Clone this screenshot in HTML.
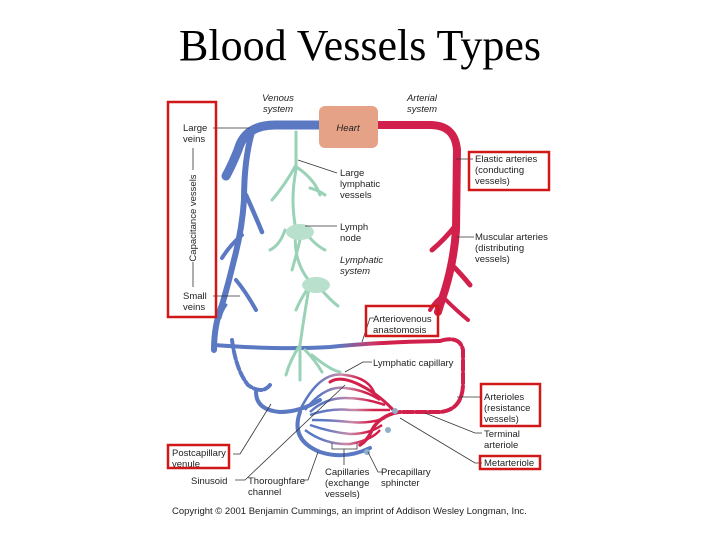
<!DOCTYPE html>
<html><head><meta charset="utf-8"><style>
html,body{margin:0;padding:0;background:#fff;width:720px;height:540px;overflow:hidden}
svg{display:block}
text{font-family:"Liberation Sans",sans-serif;font-size:9.5px;fill:#222}
.it{font-style:italic}
</style></head><body>
<svg width="720" height="540" viewBox="0 0 720 540">
<defs>
<linearGradient id="av" x1="0" x2="1"><stop offset="0.55" stop-color="#5b78c2"/><stop offset="0.7" stop-color="#c83a6a"/><stop offset="0.75" stop-color="#d1204c"/></linearGradient>
<linearGradient id="cap" x1="0" x2="1"><stop offset="0.2" stop-color="#5b78c2"/><stop offset="0.55" stop-color="#c98aa8"/><stop offset="0.8" stop-color="#d1204c"/></linearGradient>
</defs>
<text x="360" y="60" text-anchor="middle" style="font-family:'Liberation Serif',serif;font-size:44px;fill:#000">Blood Vessels Types</text>

<g fill="none" stroke="#5b78c2" stroke-linecap="round">
<path d="M320 125 H275 Q245 125 238 150 Q232 165 226 176" stroke-width="9"/>
<path d="M252 132 Q244 160 244 200 Q242 230 234 260 Q228 285 222 305 Q214 325 214 350" stroke-width="6"/>
<path d="M246 195 Q255 215 262 232" stroke-width="4.5"/>
<path d="M242 235 Q230 245 222 258" stroke-width="4"/>
<path d="M236 280 Q246 292 256 310" stroke-width="4"/>
<path d="M226 305 Q222 310 220 318" stroke-width="3"/>
<path d="M232 340 Q236 370 248 385 Q262 395 270 385" stroke-width="4" stroke-dasharray="8 3"/>
<path d="M256 392 Q256 410 280 412 Q300 412 320 400" stroke-width="4"/>
<path d="M300 412 Q290 440 320 452 Q345 460 370 448" stroke-width="4"/>
</g>
<path d="M214 345 Q280 350 330 347 Q380 342 440 341" fill="none" stroke="url(#av)" stroke-width="4"/>
<g fill="none" stroke="#d1204c" stroke-linecap="round">
<path d="M378 125 H430 Q455 125 457 150 L456 230 Q454 260 445 290 Q440 305 438 312" stroke-width="8"/>
<path d="M456 225 Q444 240 432 250" stroke-width="5"/>
<path d="M452 265 Q462 275 470 285" stroke-width="5"/>
<path d="M444 295 Q436 300 430 310" stroke-width="4"/>
<path d="M446 300 Q456 310 468 320" stroke-width="4"/>
<path d="M440 341 Q460 335 463 350 L463 385 Q462 410 440 412 L400 412" stroke-width="4" stroke-dasharray="10 3"/>
<path d="M400 412 Q380 415 372 430 Q368 440 360 445" stroke-width="3.5"/>
<path d="M395 412 Q380 395 360 385 Q340 375 330 382" stroke-width="3"/>
</g>
<g fill="none" stroke="url(#cap)" stroke-width="2.5">
<path d="M300 410 Q320 370 345 375 Q370 378 375 395"/>
<path d="M305 410 Q325 385 345 388 Q365 390 380 400"/>
<path d="M310 412 Q325 398 345 398 Q365 398 385 405"/>
<path d="M310 415 Q330 408 350 410 Q370 410 390 410"/>
<path d="M312 420 Q330 420 350 422 Q370 424 385 418"/>
<path d="M310 425 Q330 432 350 434 Q370 434 382 425"/>
<path d="M305 430 Q325 445 350 444 Q372 440 380 430"/>
</g>
<circle cx="395" cy="411" r="3" fill="#8fb0c8"/><circle cx="388" cy="430" r="3" fill="#8fb0c8"/><circle cx="367" cy="452" r="3" fill="#8fb0c8"/>
<g fill="none" stroke="#9ad2b8" stroke-width="3" stroke-linecap="round">
<path d="M296 132 L296 170 Q290 200 296 230 Q292 260 310 282 Q305 310 300 345 L300 380"/>
<path d="M296 165 Q285 185 272 200"/><path d="M298 168 Q315 180 320 195"/>
<path d="M310 188 Q318 190 325 195"/>
<path d="M285 230 Q280 245 270 250"/><path d="M305 232 Q315 245 325 250"/>
<path d="M300 240 Q295 260 292 270"/>
<path d="M310 285 Q300 300 296 310"/><path d="M320 288 Q330 300 338 306"/>
<path d="M300 345 Q290 360 286 375"/><path d="M305 350 Q315 360 322 372"/><path d="M312 355 Q330 370 340 372"/>
</g>
<ellipse cx="300" cy="232" rx="14" ry="8" fill="#b8e0cc"/>
<ellipse cx="316" cy="285" rx="14" ry="8" fill="#b8e0cc"/>
<rect x="319" y="106" width="59" height="42" rx="6" fill="#e6a287"/>
<text x="348" y="131" text-anchor="middle" class="it">Heart</text>
<text x="278" y="101" text-anchor="middle" class="it">Venous</text><text x="278" y="112" text-anchor="middle" class="it">system</text>
<text x="422" y="101" text-anchor="middle" class="it">Arterial</text><text x="422" y="112" text-anchor="middle" class="it">system</text>
<g stroke="#333" stroke-width="0.8" fill="none">
<path d="M213 128 H250"/><path d="M193 148 V170"/><path d="M193 262 V287"/><path d="M213 296 H240"/>
<path d="M298 160 L337 173"/><path d="M305 226 H337"/>
<path d="M456 159 H473"/><path d="M457 237 H474"/>
<path d="M362 342 L370 318 H374"/>
<path d="M345 372 L363 362 H372"/>
<path d="M457 397 H482"/>
<path d="M425 413 L475 433 H482"/><path d="M400 418 L475 463 H482"/>
<path d="M271 404 L240 454 H233"/>
<path d="M345 385 L245 480 H235"/>
<path d="M318 452 L308 480 H303"/>
<path d="M332 443 V449 H357 V443 M344 449 V465"/>
<path d="M368 452 L378 472 H383"/>
</g>
<text x="183" y="131">Large</text><text x="183" y="142">veins</text>
<text x="196" y="218" transform="rotate(-90 196 218)" text-anchor="middle">Capacitance vessels</text>
<text x="183" y="299">Small</text><text x="183" y="310">veins</text>
<text x="340" y="176">Large</text><text x="340" y="187">lymphatic</text><text x="340" y="198">vessels</text>
<text x="340" y="230">Lymph</text><text x="340" y="241">node</text>
<text x="340" y="263" class="it">Lymphatic</text><text x="340" y="274" class="it">system</text>
<text x="475" y="162">Elastic arteries</text><text x="475" y="173">(conducting</text><text x="475" y="184">vessels)</text>
<text x="475" y="240">Muscular arteries</text><text x="475" y="251">(distributing</text><text x="475" y="262">vessels)</text>
<text x="373" y="322">Arteriovenous</text><text x="373" y="333">anastomosis</text>
<text x="373" y="366">Lymphatic capillary</text>
<text x="484" y="400">Arterioles</text><text x="484" y="411">(resistance</text><text x="484" y="422">vessels)</text>
<text x="484" y="437">Terminal</text><text x="484" y="448">arteriole</text>
<text x="484" y="466">Metarteriole</text>
<text x="172" y="456">Postcapillary</text><text x="172" y="467">venule</text>
<text x="191" y="484">Sinusoid</text>
<text x="248" y="484">Thoroughfare</text><text x="248" y="495">channel</text>
<text x="325" y="475">Capillaries</text><text x="325" y="486">(exchange</text><text x="325" y="497">vessels)</text>
<text x="381" y="475">Precapillary</text><text x="381" y="486">sphincter</text>
<text x="172" y="514">Copyright © 2001 Benjamin Cummings, an imprint of Addison Wesley Longman, Inc.</text>
<g fill="none" stroke="#d01818" stroke-width="2.5">
<rect x="168" y="102" width="48" height="215"/>
<rect x="469" y="152" width="80" height="38"/>
<rect x="366" y="306" width="72" height="30"/>
<rect x="481" y="384" width="59" height="42"/>
<rect x="168" y="445" width="61" height="23"/>
<rect x="480" y="456" width="60" height="13"/>
</g>
</svg>
</body></html>
